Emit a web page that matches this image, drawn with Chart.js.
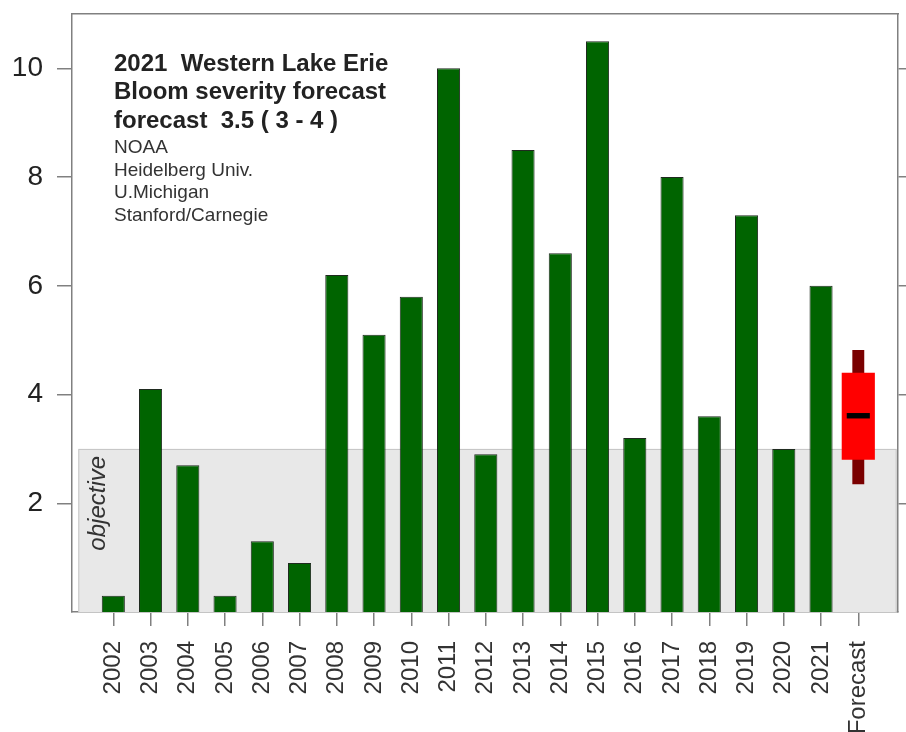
<!DOCTYPE html>
<html>
<head>
<meta charset="utf-8">
<title>Western Lake Erie bloom severity</title>
<script src="https://cdn.jsdelivr.net/npm/chart.js@4.4.1/dist/chart.umd.min.js"></script>
<style>
  html, body { margin: 0; padding: 0; background: #fff; }
</style>
</head>
<body>
<canvas id="bloomChart" width="906" height="732"></canvas>
<script>
// bloom severity per year
var years = ["2002", "2003", "2004", "2005", "2006", "2007", "2008", "2009", "2010", "2011",
             "2012", "2013", "2014", "2015", "2016", "2017", "2018", "2019", "2020", "2021"];
var severity = [0.3, 4.1, 2.7, 0.3, 1.3, 0.9, 6.2, 5.1, 5.8, 10.0,
                2.9, 8.5, 6.6, 10.5, 3.2, 8.0, 3.6, 7.3, 3.0, 6.0];
var forecastLabel = "Forecast";
var forecastBox = [2.8, 4.4];       // red box
var forecastWhisker = [2.35, 4.82]; // dark red line
var forecastMid = [3.56, 3.66];     // black mark
var objectiveLevel = 3;
var yTicks = [2, 4, 6, 8, 10];
var titleLines = ["2021  Western Lake Erie", "Bloom severity forecast", "forecast  3.5 ( 3 - 4 )"];
var sourceLines = ["NOAA", "Heidelberg Univ.", "U.Michigan", "Stanford/Carnegie"];

var labels = years.concat([forecastLabel]);
var fIdx = years.length;
var xMin = -1.109, xMax = 21.066;
var boxGrey = "#808080";
var fontFam = "'Liberation Sans', Arial, sans-serif";

var yearPoints = severity.map(function (v, i) { return { x: i, y: v }; });

// grey "objective" band + notes on top
var extras = {
    id: "extras",
    beforeDatasetsDraw: function (chart) {
        var ctx = chart.ctx, xs = chart.scales.x, ys = chart.scales.y;
        var l = xs.getPixelForValue(-0.94), r = xs.getPixelForValue(21.03);
        var t = ys.getPixelForValue(objectiveLevel), b = ys.getPixelForValue(0);
        ctx.save();
        ctx.fillStyle = "#e8e8e8";
        ctx.fillRect(l, t, r - l, b - t);
        ctx.strokeStyle = "#c4c4c4";
        ctx.lineWidth = 1;
        ctx.strokeRect(l + 0.5, t + 0.5, r - l - 1, b - t);
        // rotated label
        ctx.translate(xs.getPixelForValue(-0.41), ys.getPixelForValue(2));
        ctx.rotate(-Math.PI / 2);
        ctx.fillStyle = "#333";
        ctx.font = "italic 24px " + fontFam;
        ctx.textAlign = "center";
        ctx.textBaseline = "middle";
        ctx.fillText("objective", 0, 0);
        ctx.restore();
    },
    afterDraw: function (chart) {
        var ctx = chart.ctx;
        var x0 = chart.chartArea.left + 42;
        ctx.save();
        ctx.fillStyle = "#222";
        ctx.textAlign = "left";
        ctx.textBaseline = "alphabetic";
        ctx.font = "bold 24px " + fontFam;
        var tb = [71, 99, 128];
        titleLines.forEach(function (s, i) { ctx.fillText(s, x0, tb[i]); });
        ctx.fillStyle = "#333";
        ctx.font = "19px " + fontFam;
        sourceLines.forEach(function (s, i) { ctx.fillText(s, x0, 153 + i * 22.5); });
        ctx.restore();
    }
};

function noPad(s) { s.paddingTop = 0; s.paddingBottom = 0; }

var chart = new Chart(document.getElementById("bloomChart").getContext("2d"), {
    type: "bar",
    data: {
        datasets: [
            { data: [{ x: fIdx, y: forecastMid }], backgroundColor: "#000", barPercentage: 0.62, categoryPercentage: 1, order: 0 },
            { data: [{ x: fIdx, y: forecastBox }], backgroundColor: "#ff0000", barPercentage: 0.89, categoryPercentage: 1, order: 1 },
            { data: [{ x: fIdx, y: forecastWhisker }], backgroundColor: "#7a0000", barPercentage: 0.32, categoryPercentage: 1, order: 2 },
            { data: yearPoints, backgroundColor: "#006400", borderColor: "#1f2a1f", borderWidth: 1,
              barPercentage: 0.62, categoryPercentage: 1, order: 3 }
        ]
    },
    options: {
        responsive: false,
        animation: false,
        devicePixelRatio: 1,
        layout: { padding: { top: 14, right: 0, left: 0, bottom: 0 } },
        datasets: { bar: { grouped: false } },
        plugins: { legend: { display: false }, tooltip: { enabled: false } },
        scales: {
            x: {
                type: "linear", position: "bottom", min: xMin, max: xMax, offset: false,
                afterBuildTicks: function (s) { s.ticks = labels.map(function (_, i) { return { value: i }; }); },
                afterFit: function (s) { s.height = 120; },
                ticks: {
                    callback: function (v) { return labels[v]; },
                    maxRotation: 90, minRotation: 90, autoSkip: false, padding: 15,
                    color: "#333", font: { family: fontFam, size: 24 }
                },
                grid: { offset: false, drawOnChartArea: false, tickLength: 14, color: boxGrey, lineWidth: 1.5 },
                border: { color: boxGrey, width: 1.5 }
            },
            xTop: {
                type: "linear", position: "top", min: xMin, max: xMax, offset: false,
                afterFit: function (s) { s.height = 0; },
                ticks: { display: false },
                grid: { offset: false, drawOnChartArea: false, drawTicks: false, tickLength: 0 },
                border: { color: boxGrey, width: 1.5 }
            },
            y: {
                position: "left", min: 0, max: 11,
                afterBuildTicks: function (s) { s.ticks = yTicks.map(function (v) { return { value: v }; }); },
                afterFit: function (s) { s.width = 72; noPad(s); },
                ticks: { padding: 14, color: "#222", font: { family: fontFam, size: 28 } },
                grid: { drawOnChartArea: false, tickLength: 15, color: boxGrey, lineWidth: 1.5 },
                border: { color: boxGrey, width: 1.5 }
            },
            yRight: {
                position: "right", min: 0, max: 11,
                afterBuildTicks: function (s) { s.ticks = yTicks.map(function (v) { return { value: v }; }); },
                afterFit: noPad,
                ticks: { display: false },
                grid: { drawOnChartArea: false, tickLength: 8, color: boxGrey, lineWidth: 1.5 },
                border: { color: boxGrey, width: 1.5 }
            }
        }
    },
    plugins: [extras]
});
</script>
</body>
</html>
